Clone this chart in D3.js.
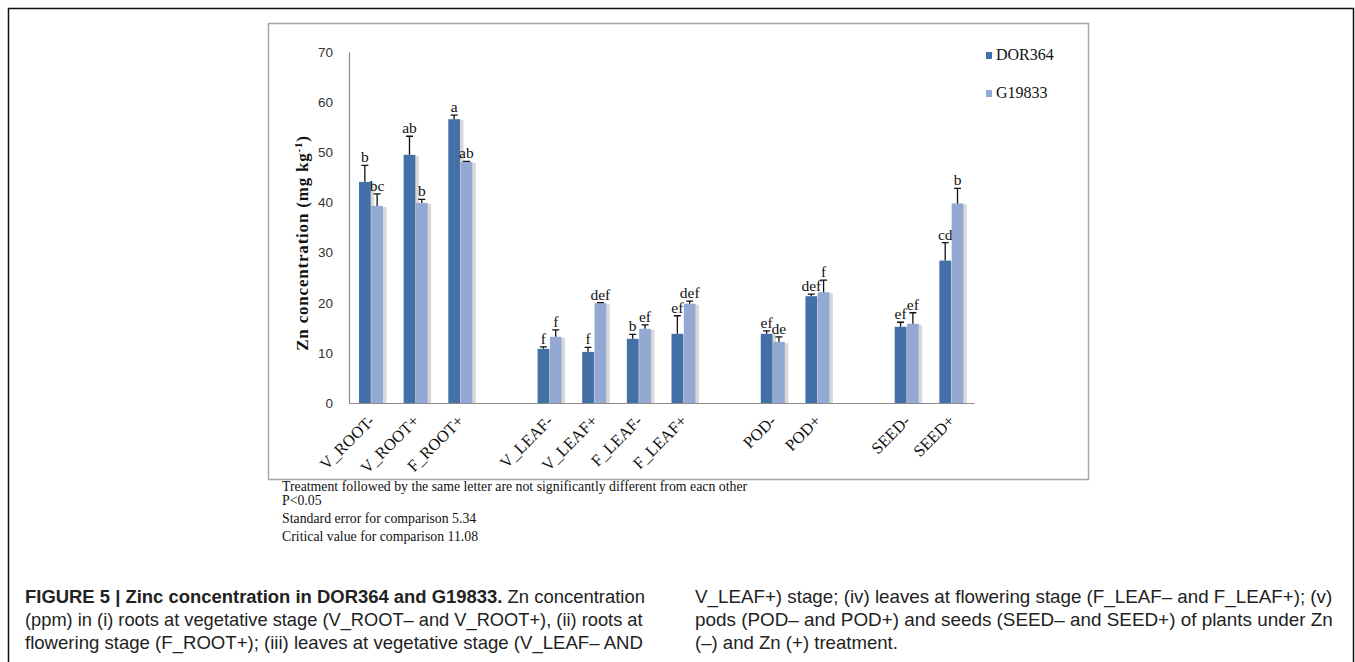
<!DOCTYPE html>
<html lang="en">
<head>
  <meta charset="UTF-8">
  <title>Zn concentration</title>
  <script src="https://d3js.org/d3.v7.min.js"></script>
  <style type="text/css">
    body { margin: 0; background: #fff; }
    .serif { font-family: "Liberation Serif", "Times New Roman", serif; }
    .ytick text { font-family: "Liberation Sans", Arial, sans-serif; font-size: 13.5px; fill: #333; }
    .caption { font-family: "Liberation Sans", Arial, sans-serif; font-size: 18px; fill: #222; }
  </style>
</head>
<body>
<script>

  // chart data
  var categories = ["V_ROOT-", "V_ROOT+", "F_ROOT+", "", "V_LEAF-", "V_LEAF+", "F_LEAF-", "F_LEAF+", "", "POD-", "POD+", "", "SEED-", "SEED+"];
  var dor364 =     [44.1, 49.5, 56.6, null, 10.8, 10.2, 12.8, 13.8, null, 13.8, 21.3, null, 15.2, 28.4];
  var dor364Err =  [3.3, 3.7, 0.8, null, 0.4, 0.9, 0.9, 3.6, null, 0.6, 0.4, null, 0.9, 3.6];
  var g19833 =     [39.3, 39.9, 48.1, null, 13.2, 19.9, 14.8, 19.8, null, 12.2, 22.1, null, 15.8, 39.8];
  var g19833Err =  [2.4, 0.7, 0.1, null, 1.4, 0.1, 0.8, 0.5, null, 1.0, 2.4, null, 2.2, 3.0];
  var dorLetters = ["b", "ab", "a", null, "f", "f", "b", "ef", null, "ef", "def", null, "ef", "cd"];
  var gLetters =   ["bc", "b", "ab", null, "f", "def", "ef", "def", null, "de", "f", null, "ef", "b"];
  var yTicks = [0, 10, 20, 30, 40, 50, 60, 70];
  var seriesNames = ["DOR364", "G19833"];
  var colors = ["#4470a8", "#93a9d3"];

  var notes = [
    "Treatment followed by the same letter are not significantly different from eacn other",
    "P<0.05",
    "Standard error for comparison 5.34",
    "Critical value for comparison 11.08"
  ];

  var W = 1355, H = 662;
  var svg = d3.select("body").append("svg")
    .attr("width", W)
    .attr("height", H);

  // outer figure frame (top, left, right)
  svg.append("path")
    .attr("d", "M8.5,662 V8.5 H1353.5 V662")
    .attr("fill", "none")
    .attr("stroke", "#111")
    .attr("stroke-width", 1.5);

  // chart box
  svg.append("rect")
    .attr("x", 268.5).attr("y", 23.5)
    .attr("width", 820).attr("height", 456)
    .attr("fill", "#fff")
    .attr("stroke", "#a6a6a6")
    .attr("stroke-width", 1.5);

  // scales
  var x = d3.scaleBand()
    .domain(d3.range(categories.length))
    .range([349, 974]);

  var x1 = d3.scaleBand()
    .domain([0, 1])
    .range([10, 34])
    .paddingInner(0.05);

  var y = d3.scaleLinear()
    .domain([0, 70])
    .range([403, 52]);

  // y axis
  var yAxis = svg.append("g")
    .attr("class", "ytick")
    .attr("transform", "translate(349,0)")
    .call(d3.axisLeft(y).tickValues(yTicks).tickSize(0).tickPadding(16));
  yAxis.select(".domain").attr("stroke", "#8c8c8c").attr("stroke-width", 1.2);

  // x axis
  var xAxis = svg.append("g")
    .attr("transform", "translate(0,403)")
    .call(d3.axisBottom(x).tickSize(0).tickFormat(function(i) { return categories[i]; }));
  xAxis.select(".domain").attr("stroke", "#8c8c8c").attr("stroke-width", 1.2);
  xAxis.selectAll(".tick text")
    .attr("class", "serif")
    .attr("font-size", "16.5px")
    .attr("fill", "#111")
    .attr("text-anchor", "end")
    .attr("dy", null)
    .attr("y", 0)
    .attr("transform", "translate(4,19) rotate(-45)");

  // bars
  var series = [
    {vals: dor364, err: dor364Err, letters: dorLetters},
    {vals: g19833, err: g19833Err, letters: gLetters}
  ];

  series.forEach(function(s, si) {
    var idx = d3.range(categories.length).filter(function(i) { return s.vals[i] != null; });
    var g = svg.append("g");

    // soft shadow
    g.selectAll(".shadow")
      .data(idx)
      .enter().append("rect")
      .attr("x", function(i) { return x(i) + x1(si) + 2; })
      .attr("y", function(i) { return y(s.vals[i]) + 1; })
      .attr("width", x1.bandwidth() + 1.5)
      .attr("height", function(i) { return y(0) - y(s.vals[i]) - 1; })
      .attr("fill", "#d8d8d8");

    g.selectAll(".bar")
      .data(idx)
      .enter().append("rect")
      .attr("x", function(i) { return x(i) + x1(si); })
      .attr("y", function(i) { return y(s.vals[i]); })
      .attr("width", x1.bandwidth())
      .attr("height", function(i) { return y(0) - y(s.vals[i]); })
      .attr("fill", colors[si]);
  });

  series.forEach(function(s, si) {
    var idx = d3.range(categories.length).filter(function(i) { return s.vals[i] != null; });
    var g = svg.append("g");
    var cx = function(i) { return x(i) + x1(si) + x1.bandwidth() / 2; };

    // error bars (upper only)
    g.selectAll(".err")
      .data(idx)
      .enter().append("path")
      .attr("d", function(i) {
        var yt = y(s.vals[i] + s.err[i]), yb = y(s.vals[i]);
        return "M" + cx(i) + "," + yb + " V" + yt + " M" + (cx(i) - 3.5) + "," + yt + " H" + (cx(i) + 3.5);
      })
      .attr("stroke", "#111")
      .attr("stroke-width", 1.3)
      .attr("fill", "none");

    // significance letters
    g.selectAll(".lab")
      .data(idx)
      .enter().append("text")
      .attr("class", "serif")
      .attr("x", cx)
      .attr("y", function(i) { return y(s.vals[i] + s.err[i]) - 3; })
      .attr("text-anchor", "middle")
      .attr("font-size", "15.5px")
      .attr("fill", "#111")
      .text(function(i) { return s.letters[i]; });
  });

  // y axis title
  var yTitle = svg.append("text")
    .attr("class", "serif")
    .attr("transform", "translate(308,243) rotate(-90)")
    .attr("text-anchor", "middle")
    .attr("font-size", "17px")
    .attr("letter-spacing", "0.8px")
    .attr("font-weight", "bold")
    .attr("fill", "#111");
  yTitle.append("tspan").text("Zn concentration (mg kg");
  yTitle.append("tspan").attr("dy", -6).attr("font-size", "11px").text("-1");
  yTitle.append("tspan").attr("dy", 6).text(")");

  // legend
  var legend = svg.append("g");
  seriesNames.forEach(function(name, i) {
    var ly = 55 + i * 38;
    legend.append("rect")
      .attr("x", 986).attr("y", ly - 3)
      .attr("width", 6).attr("height", 7)
      .attr("fill", colors[i]);
    legend.append("text")
      .attr("class", "serif")
      .attr("x", 996).attr("y", ly + 5)
      .attr("font-size", "16px")
      .attr("fill", "#111")
      .text(name);
  });

  // notes under the chart
  var noteY = [491, 505, 523, 541];
  notes.forEach(function(t, i) {
    svg.append("text")
      .attr("class", "serif")
      .attr("x", 282).attr("y", noteY[i])
      .attr("font-size", "13.8px")
      .attr("fill", "#111")
      .text(t);
  });

  // figure caption, two columns, lines fitted to column width
  var capLines = [
    {x: 25, y: 603, w: 620, parts: [["FIGURE 5 | Zinc concentration in DOR364 and G19833.", true], [" Zn concentration", false]]},
    {x: 25, y: 626, w: 618, parts: [["(ppm) in (i) roots at vegetative stage (V_ROOT\u2013 and V_ROOT+), (ii) roots at", false]]},
    {x: 25, y: 649, w: null, parts: [["flowering stage (F_ROOT+); (iii) leaves at vegetative stage (V_LEAF\u2013 AND", false]]},
    {x: 695, y: 603, w: 638, parts: [["V_LEAF+) stage; (iv) leaves at flowering stage (F_LEAF\u2013 and F_LEAF+); (v)", false]]},
    {x: 695, y: 626, w: 638, parts: [["pods (POD\u2013 and POD+) and seeds (SEED\u2013 and SEED+) of plants under Zn", false]]},
    {x: 695, y: 649, w: null, parts: [["(\u2013) and Zn (+) treatment.", false]]}
  ];

  var scales = [];
  var capNodes = capLines.map(function(l) {
    var t = svg.append("text").attr("class", "caption");
    l.parts.forEach(function(p) {
      t.append("tspan").attr("font-weight", p[1] ? "bold" : null).text(p[0]);
    });
    var w = t.node().getComputedTextLength();
    if (l.w) scales.push(l.w / w);
    return {t: t, w: w};
  });
  var meanScale = d3.mean(scales);
  capLines.forEach(function(l, i) {
    var sx = l.w ? l.w / capNodes[i].w : meanScale;
    capNodes[i].t.attr("transform", "translate(" + l.x + "," + l.y + ") scale(" + sx + ",1)");
  });

</script>
</body>
</html>
